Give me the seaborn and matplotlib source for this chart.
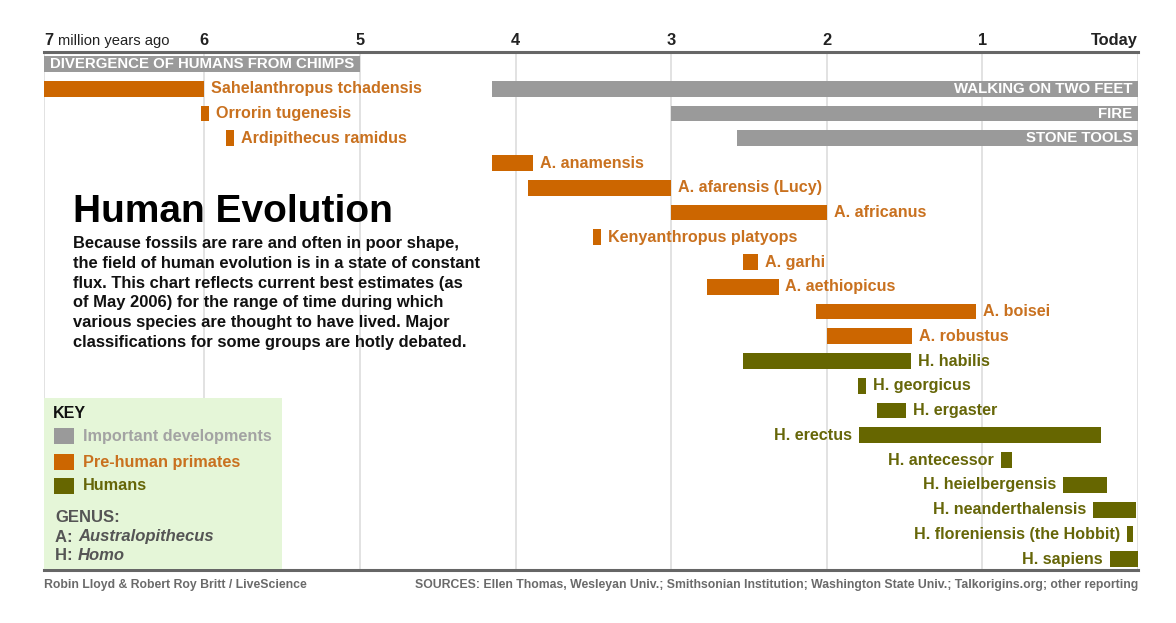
import pandas as pd
import matplotlib.pyplot as plt
import matplotlib.patches as mpatches
import seaborn as sns

# ==========================================
# data (millions of years ago)
# ==========================================
dev_labels = ["DIVERGENCE OF HUMANS FROM CHIMPS", "WALKING ON TWO FEET", "FIRE", "STONE TOOLS"]
dev_start = [7.03, 4.15, 3.0, 2.58]
dev_end = [5.0, 0.0, 0.0, 0.0]
dev_row = [0, 1, 2, 3]

pre_labels = ["Sahelanthropus tchadensis", "Orrorin tugenesis", "Ardipithecus ramidus",
              "A. anamensis", "A. afarensis (Lucy)", "A. africanus", "Kenyanthropus platyops",
              "A. garhi", "A. aethiopicus", "A. boisei", "A. robustus"]
pre_start = [7.03, 6.02, 5.86, 4.15, 3.92, 3.0, 3.50, 2.54, 2.77, 2.07, 2.0]
pre_end = [6.0, 5.97, 5.81, 3.89, 3.0, 2.0, 3.45, 2.44, 2.31, 1.04, 1.45]
pre_row = list(range(1, 12))

hum_labels = ["H. habilis", "H. georgicus", "H. ergaster", "H. erectus", "H. antecessor",
              "H. heielbergensis", "H. neanderthalensis", "H. floreniensis (the Hobbit)", "H. sapiens"]
hum_start = [2.54, 1.80, 1.68, 1.79, 0.88, 0.48, 0.29, 0.07, 0.18]
hum_end = [1.46, 1.75, 1.49, 0.24, 0.81, 0.20, 0.01, 0.03, 0.0]
hum_row = list(range(12, 21))
hum_label_left = [False, False, False, True, True, True, True, True, True]

# the "7" mark sits on the left edge of the chart
tick_vals = [7.03, 6, 5, 4, 3, 2, 1, 0]
tick_labels = ["7", "6", "5", "4", "3", "2", "1", "Today"]

GRAY = "#9a9a9a"
ORANGE = "#cc6600"
OLIVE = "#666600"
ORANGE_TXT = "#c9711f"
OLIVE_TXT = "#666608"

W, H = 1176, 623


def fx(x):
    return x / W


def fy(y):
    return 1 - y / H


sns.set_style("white")
plt.rcParams['font.family'] = ['Liberation Sans', 'DejaVu Sans']

fig = plt.figure(figsize=(11.76, 6.23), dpi=100)
ax = fig.add_axes([fx(44), fy(570), fx(1138) - fx(44), fy(52) - fy(570)])


def draw_group(labels, start, end, rows, color):
    df = pd.DataFrame({"label": labels, "start": start, "end": end, "row": rows})
    df["dur"] = df["start"] - df["end"]
    df = df.sort_values("row")
    n0 = len(ax.patches)
    sns.barplot(data=df, x="dur", y="row", orient="y", native_scale=True, color=color,
                saturation=1, width=0.64, errorbar=None, ax=ax, zorder=3)
    # move each bar so it spans end..start
    for patch, e in zip(ax.patches[n0:], df["end"]):
        patch.set_x(e)
        patch.set_linewidth(0)
    return df


draw_group(dev_labels, dev_start, dev_end, dev_row, GRAY)
draw_group(pre_labels, pre_start, pre_end, pre_row, ORANGE)
draw_group(hum_labels, hum_start, hum_end, hum_row, OLIVE)

ax.set_xlim(7.03, 0)
ax.set_ylim(20.44, -0.485)
ax.set_xlabel("")
ax.set_ylabel("")
ax.set_yticks([])
ax.set_xticks(tick_vals)
ax.tick_params(axis="x", length=0, labelbottom=False, labeltop=False)
ax.grid(axis="x", color="#dadada", lw=1.1, zorder=0)
ax.grid(axis="y", visible=False)
ax.set_axisbelow(True)
for s in ["left", "right"]:
    ax.spines[s].set_visible(False)
for s in ["top", "bottom"]:
    ax.spines[s].set_color("#666666")
    ax.spines[s].set_linewidth(2.2)
    ax.spines[s].set_zorder(6)

# top scale labels
for v, lab in zip(tick_vals, tick_labels):
    ha = "left" if v == tick_vals[0] else ("right" if v == 0 else "center")
    ax.annotate(lab, xy=(v, 1), xycoords=("data", "axes fraction"), xytext=(0, 3),
                textcoords="offset points", ha=ha, va="bottom", fontsize=11.8,
                fontweight="bold", color="#222222", annotation_clip=False)
ax.annotate("million years ago", xy=(tick_vals[0], 1), xycoords=("data", "axes fraction"),
            xytext=(10, 3), textcoords="offset points", ha="left", va="bottom", fontsize=10.6,
            color="#222222", annotation_clip=False)

# labels inside the gray bars
ax.annotate(dev_labels[0], xy=(dev_start[0], dev_row[0]), xytext=(4, 0), textcoords="offset points",
            ha="left", va="center", fontsize=10.8, fontweight="bold", color="white", zorder=5)
for lab, r in zip(dev_labels[1:], dev_row[1:]):
    ax.annotate(lab, xy=(0, r), xytext=(-4, 0), textcoords="offset points",
                ha="right", va="center", fontsize=10.8, fontweight="bold", color="white", zorder=5)

# species labels
for lab, s, e, r in zip(pre_labels, pre_start, pre_end, pre_row):
    ax.annotate(lab, xy=(e, r), xytext=(5, 0), textcoords="offset points",
                ha="left", va="center", fontsize=11.6, fontweight="bold", color=ORANGE_TXT)
for lab, s, e, r, left in zip(hum_labels, hum_start, hum_end, hum_row, hum_label_left):
    if left:
        ax.annotate(lab, xy=(s, r), xytext=(-5, 0), textcoords="offset points",
                    ha="right", va="center", fontsize=11.6, fontweight="bold", color=OLIVE_TXT)
    else:
        ax.annotate(lab, xy=(e, r), xytext=(5, 0), textcoords="offset points",
                    ha="left", va="center", fontsize=11.6, fontweight="bold", color=OLIVE_TXT)

# title block
fig.text(fx(73), fy(222), "Human Evolution", fontsize=28, fontweight="bold", color="black",
         ha="left", va="baseline")
blurb = ("Because fossils are rare and often in poor shape,\n"
         "the field of human evolution is in a state of constant\n"
         "flux. This chart reflects current best estimates (as\n"
         "of May 2006) for the range of time during which\n"
         "various species are thought to have lived. Major\n"
         "classifications for some groups are hotly debated.")
fig.text(fx(73), fy(236), blurb, fontsize=11.9, fontweight="bold", color="#111111",
         ha="left", va="top", linespacing=1.40)

# key box
fig.add_artist(mpatches.Rectangle((fx(44), fy(569)), fx(282) - fx(44), fy(398) - fy(569),
                                  transform=fig.transFigure, facecolor="#e5f6d8",
                                  edgecolor="none", zorder=4))
fig.text(fx(53), fy(413), "KEY", fontsize=11.5, fontweight="bold", color="#111111",
         va="center", zorder=5)
key_items = [("Important developments", GRAY, "#a3a3a3", 436),
             ("Pre-human primates", ORANGE, ORANGE_TXT, 462),
             ("Humans", OLIVE, OLIVE_TXT, 486)]
for txt, c, tc, yy in key_items:
    fig.add_artist(mpatches.Rectangle((fx(54), fy(yy + 8)), fx(20), 16 / H,
                                      transform=fig.transFigure, facecolor=c,
                                      edgecolor="none", zorder=5))
    fig.text(fx(83), fy(yy), txt, fontsize=11.7, fontweight="bold", color=tc, va="center", zorder=5)
fig.text(fx(55), fy(518), "GENUS:", fontsize=12, fontweight="bold", color="#555555",
         va="center", zorder=5)
fig.text(fx(55), fy(537), "A: ", fontsize=12, fontweight="bold", color="#555555",
         va="center", zorder=5)
fig.text(fx(78), fy(537), "Australopithecus", fontsize=12, fontweight="bold", style="italic",
         color="#555555", va="center", zorder=5)
fig.text(fx(55), fy(556), "H: ", fontsize=12, fontweight="bold", color="#555555",
         va="center", zorder=5)
fig.text(fx(78), fy(556), "Homo", fontsize=12, fontweight="bold", style="italic",
         color="#555555", va="center", zorder=5)

# footer
fig.text(fx(44), fy(585), "Robin Lloyd & Robert Roy Britt / LiveScience", fontsize=8.8,
         fontweight="bold", color="#6a6a6a", ha="left", va="center")
fig.text(fx(1138), fy(585),
         "SOURCES: Ellen Thomas, Wesleyan Univ.; Smithsonian Institution; Washington State Univ.; "
         "Talkorigins.org; other reporting", fontsize=8.8, fontweight="bold", color="#6a6a6a",
         ha="right", va="center")

fig.savefig("out.png", dpi=100, facecolor="white")
